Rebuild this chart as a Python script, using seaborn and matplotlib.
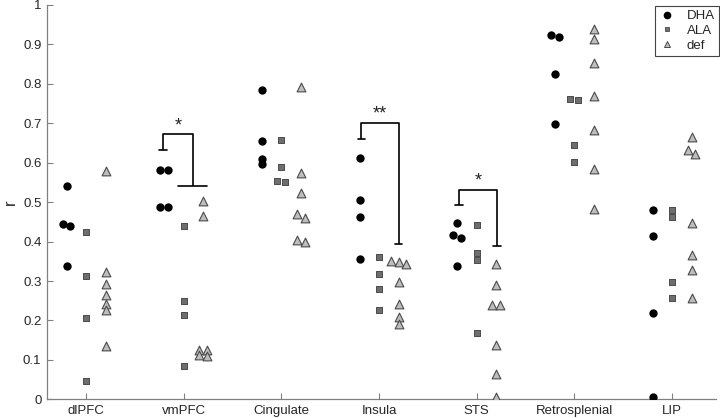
import pandas as pd
import matplotlib
matplotlib.use('Agg')
import matplotlib.pyplot as plt
from matplotlib.lines import Line2D
import seaborn as sns

#%% data
regions = ['dlPFC', 'vmPFC', 'Cingulate', 'Insula', 'STS', 'Retrosplenial', 'LIP']
groups = ['DHA', 'ALA', 'def']

dha_r = [
    [0.541, 0.439, 0.444, 0.338],
    [0.581, 0.581, 0.488, 0.488],
    [0.784, 0.656, 0.609, 0.596],
    [0.613, 0.505, 0.463, 0.357],
    [0.447, 0.410, 0.416, 0.338],
    [0.925, 0.920, 0.826, 0.698],
    [0.480, 0.414, 0.220, 0.006],
]
ala_r = [
    [0.424, 0.313, 0.207, 0.046],
    [0.440, 0.250, 0.215, 0.084],
    [0.657, 0.590, 0.552, 0.553],
    [0.361, 0.317, 0.280, 0.226],
    [0.442, 0.372, 0.354, 0.168],
    [0.761, 0.759, 0.646, 0.603],
    [0.480, 0.463, 0.298, 0.257],
]
def_r = [
    [0.580, 0.323, 0.293, 0.265, 0.241, 0.226, 0.135],
    [0.503, 0.464, 0.126, 0.124, 0.112, 0.110],
    [0.791, 0.574, 0.522, 0.469, 0.460, 0.404, 0.398],
    [0.352, 0.347, 0.342, 0.298, 0.241, 0.209, 0.190],
    [0.343, 0.289, 0.240, 0.240, 0.137, 0.063, 0.006],
    [0.938, 0.913, 0.854, 0.769, 0.683, 0.583, 0.482],
    [0.666, 0.632, 0.623, 0.446, 0.365, 0.329, 0.257],
]

# significance brackets (DHA vs def)
sig_regions = ['vmPFC', 'Insula', 'STS']
sig_stars = ['*', '**', '*']
sig_top = [0.672, 0.701, 0.532]
sig_left_low = [0.632, 0.660, 0.494]
sig_right_low = [0.541, 0.395, 0.389]

#%% long form, with side-by-side spread for near-equal values
group_offset = {'DHA': -0.2, 'ALA': 0.0, 'def': 0.2}
spread = 0.08
rows = []
for g, vals in zip(groups, [dha_r, ala_r, def_r]):
    for i, reg in enumerate(regions):
        v_sorted = sorted(vals[i], reverse=True)
        clusters = [[v_sorted[0]]]
        for v in v_sorted[1:]:
            if clusters[-1][-1] - v <= 0.01:
                clusters[-1].append(v)
            else:
                clusters.append([v])
        for cl in clusters:
            n = len(cl)
            for j, v in enumerate(cl):
                nudge = (j - (n - 1) / 2) * spread
                rows.append((reg, g, v, i + group_offset[g] + nudge))
df = pd.DataFrame(rows, columns=['region', 'group', 'r', 'xpos'])

#%% style
sns.set_theme(style='ticks')
plt.rcParams['font.family'] = ['Liberation Sans', 'DejaVu Sans']
plt.rcParams['font.size'] = 9.5

marker_style = {
    'DHA': dict(marker='o', color='black', s=6.0 ** 2, edgecolor='black', linewidth=0),
    'ALA': dict(marker='s', color='#6e6e6e', s=4.3 ** 2, edgecolor='#4a4a4a', linewidth=0.7),
    'def': dict(marker='^', color='#bdbdbd', s=6.3 ** 2, edgecolor='#4a4a4a', linewidth=0.8),
}

fig = plt.figure(figsize=(7.2, 4.18), dpi=100)
ax = fig.add_axes([47 / 720, 1 - 399.3 / 418, (716 - 47) / 720, (399.3 - 5) / 418])

for g in groups:
    sub = df[df['group'] == g]
    sns.scatterplot(data=sub, x='xpos', y='r', ax=ax, legend=False, zorder=3,
                    **marker_style[g])

# brackets
left_dx = [-0.21, -0.18, -0.18]
right_dx = [0.09, 0.20, 0.21]
right_cap = [0.15, 0.04, 0.04]
for k, reg in enumerate(sig_regions):
    c = regions.index(reg)
    xl, xr = c + left_dx[k], c + right_dx[k]
    ax.plot([xl, xl, xr, xr], [sig_left_low[k], sig_top[k], sig_top[k], sig_right_low[k]],
            color='black', lw=1.2, solid_capstyle='butt')
    ax.plot([xl - 0.04, xl + 0.04], [sig_left_low[k]] * 2, color='black', lw=1.2)
    ax.plot([xr - right_cap[k], xr + right_cap[k]], [sig_right_low[k]] * 2, color='black', lw=1.2)
    ax.text((xl + xr) / 2, sig_top[k] + 0.0, sig_stars[k], ha='center', va='bottom',
            fontsize=13, color='#222222')

ax.set_xlim(-0.4, 6.45)
ax.set_ylim(0, 1)
ax.set_xticks(range(len(regions)))
ax.set_xticklabels(regions)
yt = [i / 10 for i in range(11)]
ax.set_yticks(yt)
ax.set_yticklabels([f'{v:g}' for v in yt])
ax.set_xlabel('')
ax.set_ylabel('r')
ax.yaxis.set_label_coords(-0.044, 0.5)
ax.tick_params(direction='in', length=4, width=0.8, color='#808080', labelsize=9.5, pad=4)
sns.despine(ax=ax)
for s in ['left', 'bottom']:
    ax.spines[s].set_color('#808080')
    ax.spines[s].set_linewidth(0.9)

handles = [
    Line2D([], [], ls='none', marker='o', color='black', ms=4.5),
    Line2D([], [], ls='none', marker='s', markerfacecolor='#6e6e6e', markeredgecolor='#4a4a4a', ms=3.5, mew=0.6),
    Line2D([], [], ls='none', marker='^', markerfacecolor='#bdbdbd', markeredgecolor='#4a4a4a', ms=4.5, mew=0.7),
]
leg = ax.legend(handles, groups, loc='upper right', bbox_to_anchor=(719 / 720, 1 - 6 / 418),
                bbox_transform=fig.transFigure, borderaxespad=0, fancybox=False,
                framealpha=1, edgecolor='#444444', fontsize=9.5, labelspacing=0.2,
                handlelength=1.2, handletextpad=0.9, borderpad=0.3)
leg.get_frame().set_linewidth(0.8)

fig.savefig('out.png', dpi=100)
